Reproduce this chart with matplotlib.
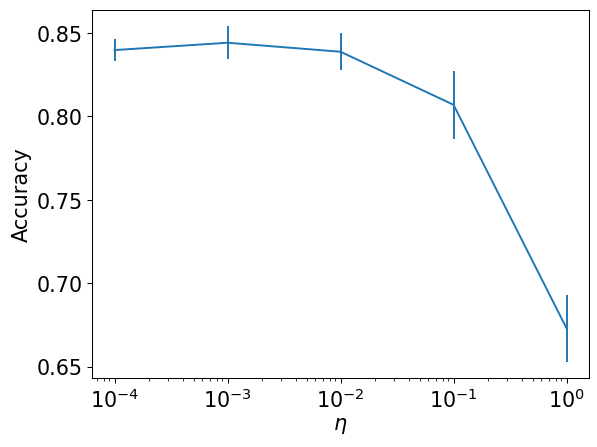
import numpy as np
import matplotlib
matplotlib.use('Agg')
import matplotlib.pyplot as plt

etas = [1e-4, 1e-3, 1e-2, 1e-1, 1e0]
acc = [0.8398, 0.8442, 0.8388, 0.8070, 0.6730]
acc_err = [0.0068, 0.0098, 0.0112, 0.0205, 0.0200]

plt.rcParams['font.size'] = 16
fig, ax = plt.subplots(figsize=(6.4, 4.8), dpi=93.3)
ax.errorbar(etas, acc, yerr=acc_err, color='#1f77b4')
ax.set_xscale('log')
ax.set_xlabel(r'$\eta$', labelpad=3)
ax.set_ylabel('Accuracy')
ax.set_yticks([0.65, 0.70, 0.75, 0.80, 0.85])
fig.subplots_adjust(left=0.154, right=0.9866, top=0.9766, bottom=0.1533)
plt.savefig('out.png')
